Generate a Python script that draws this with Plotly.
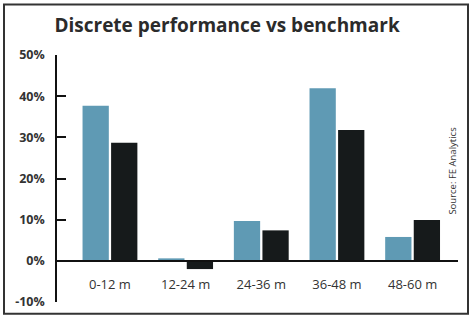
import plotly.graph_objects as go

categories = ["0-12 m", "12-24 m", "24-36 m", "36-48 m", "48-60 m"]
fund = [37.7, 0.6, 9.7, 41.9, 5.8]
benchmark = [28.7, -2.0, 7.4, 31.8, 9.9]
y_ticks = [-10, 0, 10, 20, 30, 40, 50]
y_tick_labels = ["-10%", "0%", "10%", "20%", "30%", "40%", "50%"]

W, H = 475, 322
ML, MR, MT, MB = 57, 17, 55, 17
YMIN, YMAX = -10, 50

fig = go.Figure()
fig.add_trace(go.Bar(x=list(range(len(categories))), y=fund, name="Fund",
                     marker=dict(color="#5f9ab4", line=dict(width=0))))
fig.add_trace(go.Bar(x=list(range(len(categories))), y=benchmark, name="Benchmark",
                     marker=dict(color="#161a1b", line=dict(width=0))))

fig.update_layout(
    width=W, height=H,
    margin=dict(l=ML, r=MR, t=MT, b=MB),
    paper_bgcolor="white", plot_bgcolor="white",
    barmode="group", bargap=0.245, bargroupgap=0.08,
    showlegend=False,
    font=dict(family="Open Sans", color="#333333"),
    title=dict(text="<b>Discrete performance vs benchmark</b>",
               font=dict(family="Open Sans", size=19, color="#2b2b2b"),
               x=0.478, xanchor="center", xref="container",
               y=1 - 25 / H, yanchor="middle", yref="container"),
    xaxis=dict(
        range=[-0.70, 4.60],
        tickmode="array", tickvals=list(range(len(categories))), ticktext=categories,
        showgrid=False, zeroline=False,
        showline=True, linecolor="#111111", linewidth=1.5,
        ticks="", anchor="free", position=(0 - YMIN) / (YMAX - YMIN),
        ticklabelstandoff=12,
        tickfont=dict(family="Open Sans", size=13, color="#333333"),
    ),
    yaxis=dict(
        range=[YMIN, YMAX],
        tickmode="array", tickvals=y_ticks, ticktext=y_tick_labels,
        showgrid=False, zeroline=False,
        showline=True, linecolor="#111111", linewidth=1.5,
        ticks="inside", ticklen=9, tickwidth=1.5, tickcolor="#111111",
        ticklabelstandoff=8,
        tickfont=dict(family="Open Sans", size=12.5, color="#333333", weight="bold"),
    ),
)

# outer frame
pw = W - ML - MR
ph = H - MT - MB
def px_to_paper_x(px):
    return (px - ML) / pw
def py_to_paper_y(py):
    return (H - MB - py) / ph

fig.add_shape(type="rect", xref="paper", yref="paper",
              x0=px_to_paper_x(4), x1=px_to_paper_x(468),
              y0=py_to_paper_y(317), y1=py_to_paper_y(4),
              line=dict(color="#333333", width=2), fillcolor="rgba(0,0,0,0)", layer="above")

fig.add_annotation(text="Source: FE Analytics", textangle=-90,
                   xref="paper", yref="paper",
                   x=px_to_paper_x(453), y=py_to_paper_y(172),
                   xanchor="center", yanchor="middle", showarrow=False,
                   font=dict(family="Open Sans", size=9.5, color="#333333"))

fig.write_html("out.html")
